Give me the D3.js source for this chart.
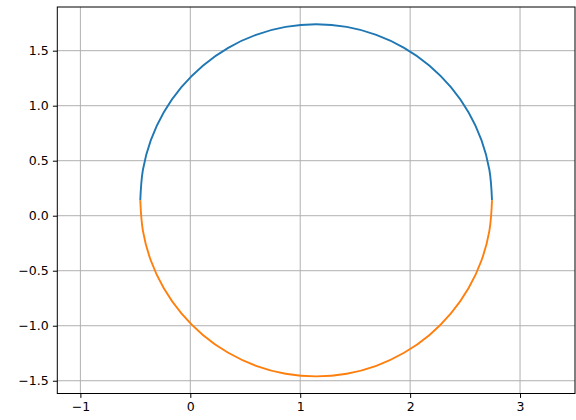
<!DOCTYPE html>
<html><head><meta charset="utf-8">
<script src="https://cdn.jsdelivr.net/npm/d3@7"></script>
<style>html,body{margin:0;padding:0;background:#fff;}svg{display:block;}</style>
</head><body>
<script>
// Points (upper arc = blue, lower arc = orange)
const xs = [-0.455, -0.431, -0.359, -0.241, -0.081, 0.117, 0.345, 0.598, 0.867, 1.145, 1.423, 1.692, 1.945, 2.174, 2.371, 2.531, 2.649, 2.721, 2.745];
const yUpper = [0.14, 0.418, 0.687, 0.94, 1.168, 1.366, 1.526, 1.644, 1.716, 1.74, 1.716, 1.644, 1.526, 1.366, 1.168, 0.94, 0.687, 0.418, 0.14];
const yLower = [0.14, -0.138, -0.407, -0.66, -0.888, -1.086, -1.246, -1.364, -1.436, -1.46, -1.436, -1.364, -1.246, -1.086, -0.888, -0.66, -0.407, -0.138, 0.14];
const xTicks = [-1, 0, 1, 2, 3];
const yTicks = [-1.5, -1.0, -0.5, 0.0, 0.5, 1.0, 1.5];
const xDomain = [-1.21, 3.5];
const yDomain = [-1.616, 1.897];

const W = 576, H = 420;
const L = 57.3, R = 575, T = 7, B = 393.5;
const svg = d3.select("body").append("svg").attr("width", W).attr("height", H);
const x = d3.scaleLinear().domain(xDomain).range([L, R]);
const y = d3.scaleLinear().domain(yDomain).range([B, T]);
const font = "DejaVu Sans";
const fmtY = d => d3.format(".1f")(d).replace("-", "\u2212");
const fmtX = d => String(d).replace("-", "\u2212");

// grid
const g = svg.append("g");
g.selectAll("line.gx").data(xTicks).join("line")
  .attr("x1", d => x(d)).attr("x2", d => x(d)).attr("y1", T).attr("y2", B)
  .attr("stroke", "#b0b0b0").attr("stroke-width", 1);
g.selectAll("line.gy").data(yTicks).join("line")
  .attr("y1", d => y(d)).attr("y2", d => y(d)).attr("x1", L).attr("x2", R)
  .attr("stroke", "#b0b0b0").attr("stroke-width", 1);

// lines
const clip = svg.append("clipPath").attr("id", "c").append("rect")
  .attr("x", L).attr("y", T).attr("width", R - L).attr("height", B - T);
const line = d3.line().x(d => x(d[0])).y(d => y(d[1])).curve(d3.curveCatmullRom.alpha(0.5));
svg.append("path").datum(xs.map((v, i) => [v, yUpper[i]]))
  .attr("d", line).attr("fill", "none").attr("stroke", "#1f77b4").attr("stroke-width", 1.9)
  .attr("clip-path", "url(#c)");
svg.append("path").datum(xs.map((v, i) => [v, yLower[i]]))
  .attr("d", line).attr("fill", "none").attr("stroke", "#ff7f0e").attr("stroke-width", 1.9)
  .attr("clip-path", "url(#c)");

// axes
const xAxis = d3.axisBottom(x).tickValues(xTicks).tickFormat(fmtX).tickSize(4.4).tickPadding(4.2);
const yAxis = d3.axisLeft(y).tickValues(yTicks).tickFormat(fmtY).tickSize(4.4).tickPadding(4.2);
const gx = svg.append("g").attr("transform", `translate(0,${B})`).call(xAxis);
const gy = svg.append("g").attr("transform", `translate(${L},0)`).call(yAxis);
[gx, gy].forEach(a => {
  a.select(".domain").remove();
  a.selectAll("line").attr("stroke", "#000").attr("stroke-width", 1);
  a.selectAll("text").attr("font-family", font).attr("font-size", "12.5px").attr("fill", "#000");
});

// spines
svg.append("rect").attr("x", L).attr("y", T).attr("width", R - L).attr("height", B - T)
  .attr("fill", "none").attr("stroke", "#000").attr("stroke-width", 1);
</script>
</body></html>
